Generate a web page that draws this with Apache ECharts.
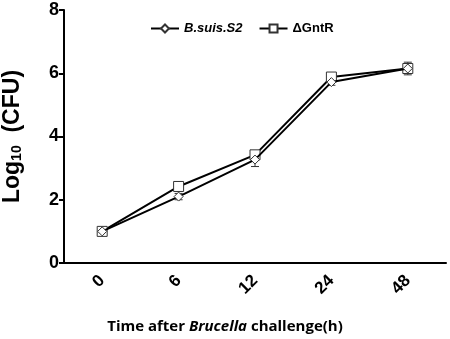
<!DOCTYPE html>
<html><head><meta charset="utf-8">
<script src="https://cdn.jsdelivr.net/npm/echarts@6/dist/echarts.min.js"></script>
<style>html,body{margin:0;padding:0;background:#fff}#c{width:450px;height:339px}</style>
</head><body><div id="c"></div>
<script>
const categories = ['0', '6', '12', '24', '48'];
const s2Values = [1.0, 2.1, 3.27, 5.72, 6.15];
const s2Errors = [0.05, 0.1, 0.22, 0.1, 0.15];
const gntrValues = [1.0, 2.42, 3.42, 5.88, 6.15];
const gntrErrors = [0.05, 0.15, 0.12, 0.1, 0.2];
const yTicks = [0, 2, 4, 6, 8];

function errData(vals, errs) { return vals.map((v, i) => [i, v - errs[i], v + errs[i]]); }
function errSeries(vals, errs) {
  return {
    type: 'custom', silent: true, z: 1,
    data: errData(vals, errs),
    renderItem: function (params, api) {
      const x = api.value(0);
      const lo = api.coord([x, api.value(1)]);
      const hi = api.coord([x, api.value(2)]);
      const w = 4;
      const st = { stroke: '#333', lineWidth: 1 };
      return { type: 'group', children: [
        { type: 'line', shape: { x1: lo[0], y1: lo[1], x2: hi[0], y2: hi[1] }, style: st },
        { type: 'line', shape: { x1: lo[0] - w, y1: lo[1], x2: lo[0] + w, y2: lo[1] }, style: st },
        { type: 'line', shape: { x1: hi[0] - w, y1: hi[1], x2: hi[0] + w, y2: hi[1] }, style: st }
      ]};
    }
  };
}

const chart = echarts.init(document.getElementById('c'), null, { renderer: 'canvas' });
chart.setOption({
  animation: false,
  grid: { left: 64, right: 4, top: 10, bottom: 76, containLabel: false, outerBoundsMode: 'none' },
  legend: {
    top: 17, left: 145, itemGap: 16, itemWidth: 28, itemHeight: 10,
    textStyle: { fontFamily: 'Liberation Sans, Arial', fontWeight: 'bold', fontSize: 13, color: '#000' },
    data: [
      { name: 'B.suis.S2', textStyle: { fontStyle: 'italic' } },
      { name: 'ΔGntR' }
    ]
  },
  xAxis: {
    type: 'category', data: categories, boundaryGap: true,
    axisLine: { lineStyle: { color: '#000', width: 2 } },
    axisTick: { alignWithLabel: true, length: 5, lineStyle: { color: '#000', width: 2 } },
    axisLabel: { rotate: 45, color: '#000', fontFamily: 'Liberation Sans, Arial', fontWeight: 'bold', fontSize: 17, margin: 15 },
    name: '{a|Time after }{b|Brucella}{a| challenge(h)}',
    nameLocation: 'middle', nameGap: 56,
    nameTextStyle: {
      padding: [0, 60, 0, 0],
      rich: {
        a: { fontFamily: 'Open Sans', fontWeight: 'bold', fontSize: 15, color: '#000' },
        b: { fontFamily: 'Open Sans', fontWeight: 'bold', fontStyle: 'italic', fontSize: 15, color: '#000' }
      }
    }
  },
  yAxis: {
    type: 'value', min: 0, max: 8, interval: 2,
    axisLine: { show: true, lineStyle: { color: '#000', width: 2 } },
    axisTick: { show: true, length: 5, lineStyle: { color: '#000', width: 2 } },
    splitLine: { show: false },
    axisLabel: { color: '#000', fontFamily: 'Liberation Sans, Arial', fontWeight: 'bold', fontSize: 18, margin: 5,
      formatter: v => yTicks.includes(v) ? String(v) : '' },
    name: '{a|Log}{s|10}{a|  (CFU)}',
    nameLocation: 'middle', nameGap: 40, nameRotate: 90,
    nameTextStyle: {
      rich: {
        a: { fontFamily: 'Liberation Sans, Arial', fontWeight: 'bold', fontSize: 23, color: '#000', verticalAlign: 'bottom', lineHeight: 26 },
        s: { fontFamily: 'Liberation Sans, Arial', fontWeight: 'bold', fontSize: 14, color: '#000', verticalAlign: 'bottom', lineHeight: 20 }
      }
    }
  },
  series: [
    errSeries(s2Values, s2Errors),
    errSeries(gntrValues, gntrErrors),
    {
      name: 'B.suis.S2', type: 'line', data: s2Values, z: 3,
      symbol: 'diamond', symbolSize: 9,
      lineStyle: { color: '#000', width: 2 },
      itemStyle: { color: '#fff', borderColor: '#333', borderWidth: 1 }
    },
    {
      name: 'ΔGntR', type: 'line', data: gntrValues, z: 2,
      symbol: 'rect', symbolSize: 10,
      lineStyle: { color: '#000', width: 2 },
      itemStyle: { color: '#fff', borderColor: '#333', borderWidth: 1 }
    }
  ]
});
</script></body></html>
